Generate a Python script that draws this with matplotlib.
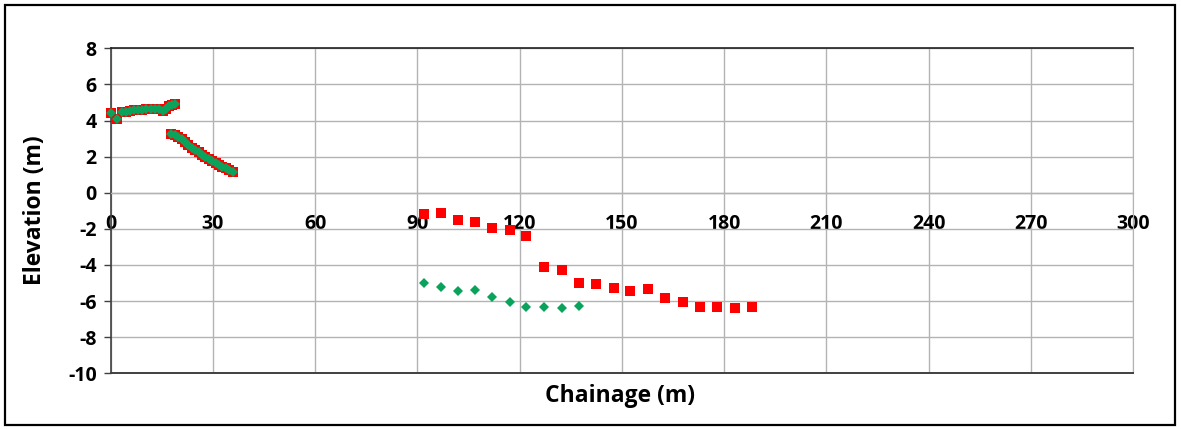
import matplotlib
matplotlib.use("Agg")
import matplotlib.pyplot as plt
from matplotlib.patches import Rectangle

# Chainage / elevation profile data
bank_x = [0.0, 1.8, 3.3, 4.5, 5.7, 6.9, 8.1, 9.3, 10.5, 11.7, 12.9, 14.1,
          15.3, 16.3, 17.2, 18.1, 19.0]
bank_y = [4.40, 4.10, 4.45, 4.50, 4.55, 4.58, 4.60, 4.60, 4.62, 4.62, 4.62,
          4.62, 4.55, 4.65, 4.80, 4.85, 4.90]

slope_x = [17.8, 18.8, 19.8, 20.8, 21.8, 22.8, 23.8, 24.8, 25.8, 26.8, 27.8,
           28.8, 29.8, 30.8, 31.8, 32.8, 33.8, 34.8, 35.8]
slope_y = [3.25, 3.20, 3.10, 2.95, 2.80, 2.65, 2.50, 2.36, 2.23, 2.10, 1.98,
           1.87, 1.76, 1.65, 1.55, 1.45, 1.35, 1.25, 1.15]

bed_x = [91.8, 96.8, 102.0, 106.9, 112.0, 117.2, 122.0, 127.2, 132.4, 137.3,
         142.4, 147.6, 152.5, 157.6, 162.8, 167.9, 173.0, 178.0, 183.1, 188.2]
bed_red_y = [-1.20, -1.10, -1.51, -1.63, -1.97, -2.06, -2.38, -4.09, -4.27,
             -4.98, -5.05, -5.25, -5.42, -5.34, -5.81, -6.06, -6.31, -6.31,
             -6.40, -6.31]
bed_green_y = [-5.01, -5.23, -5.42, -5.38, -5.79, -6.06, -6.34, -6.34, -6.40,
               -6.27]

x_ticks = [0, 30, 60, 90, 120, 150, 180, 210, 240, 270, 300]
y_ticks = [8, 6, 4, 2, 0, -2, -4, -6, -8, -10]

red_x = bank_x + slope_x + bed_x
red_y = bank_y + slope_y + bed_red_y
green_x = bank_x + slope_x + bed_x[:len(bed_green_y)]
green_y = bank_y + slope_y + bed_green_y

plt.rcParams['font.family'] = ['Open Sans', 'DejaVu Sans']
plt.rcParams['font.weight'] = 'bold'
plt.rcParams['axes.unicode_minus'] = False

fig = plt.figure(figsize=(11.81, 4.29), dpi=100)
ax = fig.add_axes([0.0937, 0.1298, 0.9594 - 0.0937, 0.8874 - 0.1298])

grid_c = '#b3b3b3'
ax.plot(red_x, red_y, linestyle='none', marker='s', markersize=7.5,
        color='#ff0000', markeredgewidth=0, zorder=6, clip_on=False)
ax.plot(green_x, green_y, linestyle='none', marker='D', markersize=5.5,
        color='#0aa35c', markeredgewidth=0, zorder=7, clip_on=False)

ax.set_xlim(0, 300)
ax.set_ylim(-10, 8)
ax.set_xticks(x_ticks)
ax.set_yticks(y_ticks)
ax.grid(True, color=grid_c, linewidth=1.0)
ax.set_axisbelow(True)

# horizontal axis crosses at zero elevation
ax.spines['bottom'].set_position(('data', 0))
ax.spines['bottom'].set_color(grid_c)
ax.spines['bottom'].set_linewidth(1.0)
ax.spines['left'].set_color('#404040')
ax.spines['left'].set_linewidth(1.2)
ax.spines['top'].set_color('#202020')
ax.spines['top'].set_linewidth(1.2)
ax.spines['right'].set_color(grid_c)
ax.axhline(-10, color='#404040', linewidth=1.4, clip_on=False, zorder=5)

ax.tick_params(axis='x', length=0, pad=15, labelsize=14)
ax.tick_params(axis='y', length=5, width=1, color='#404040', pad=5,
               labelsize=14)
for lab in ax.get_xticklabels() + ax.get_yticklabels():
    lab.set_fontweight('bold')

fig.text(0.525, 0.078, 'Chainage (m)', ha='center', va='center',
         fontsize=16.5, fontweight='bold')
fig.text(0.030, 0.51, 'Elevation (m)', ha='center', va='center',
         rotation=90, fontsize=16.5, fontweight='bold')

fig.patches.append(Rectangle((5 / 1181, 4 / 429), 1170 / 1181, 420 / 429,
                             transform=fig.transFigure, fill=False,
                             edgecolor='black', linewidth=1.6))

fig.savefig('out.png', dpi=100)
